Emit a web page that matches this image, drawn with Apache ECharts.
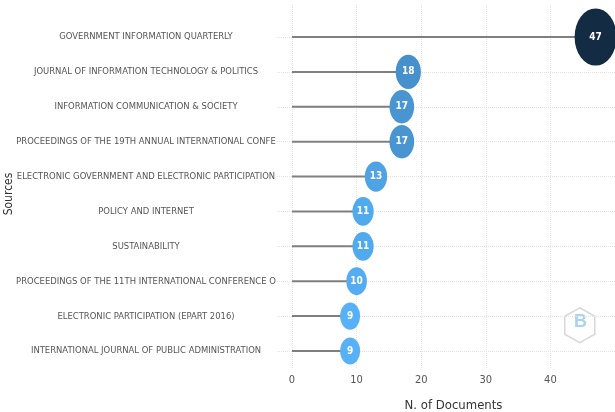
<!DOCTYPE html>
<html><head><meta charset="utf-8">
<script src="https://cdn.jsdelivr.net/npm/echarts@6/dist/echarts.min.js"></script>
<style>html,body{margin:0;padding:0;background:#fff}#c{width:615px;height:412px}</style>
</head><body><div id="c"></div>
<script>
const sources = [
  "GOVERNMENT INFORMATION QUARTERLY",
  "JOURNAL OF INFORMATION TECHNOLOGY & POLITICS",
  "INFORMATION COMMUNICATION & SOCIETY",
  "PROCEEDINGS OF THE 19TH ANNUAL INTERNATIONAL CONFE",
  "ELECTRONIC GOVERNMENT AND ELECTRONIC PARTICIPATION",
  "POLICY AND INTERNET",
  "SUSTAINABILITY",
  "PROCEEDINGS OF THE 11TH INTERNATIONAL CONFERENCE O",
  "ELECTRONIC PARTICIPATION (EPART 2016)",
  "INTERNATIONAL JOURNAL OF PUBLIC ADMINISTRATION"
];
const documents = [47, 18, 17, 17, 13, 11, 11, 10, 9, 9];
const xTicks = [0, 10, 20, 30, 40];

const labelFont = '"Liberation Sans Narrow","DejaVu Sans Condensed","Liberation Sans",sans-serif';
const chart = echarts.init(document.getElementById('c'));
chart.setOption({
  animation: false,
  grid: [
    {left: 292, right: 0, top: 37, bottom: 61, outerBoundsMode: 'none', containLabel: false},
    {left: 292, right: 0, top: 5, bottom: 44, outerBoundsMode: 'none', containLabel: false}
  ],
  xAxis: [
    {gridIndex: 0, type: 'value', min: 0, max: 50, interval: 10,
     axisLine: {show: false}, axisTick: {show: false}, axisLabel: {show: false}, splitLine: {show: false}},
    {gridIndex: 1, type: 'value', min: 0, max: 50, interval: 10,
     axisLine: {show: false}, axisTick: {show: false},
     axisLabel: {color: '#555', fontSize: 11, fontFamily: labelFont, margin: 7,
       formatter: v => xTicks.includes(v) ? String(v) : ''},
     splitLine: {show: true, lineStyle: {color: '#e3e3e3', type: 'dotted', width: 1}},
     name: 'N. of Documents', nameLocation: 'middle', nameGap: 31,
     nameTextStyle: {color: '#333', fontSize: 13, fontFamily: labelFont}}
  ],
  yAxis: [
    {gridIndex: 0, type: 'category', data: sources, inverse: true, boundaryGap: false,
     axisLine: {show: false},
     axisTick: {show: true, length: 15, lineStyle: {color: '#e3e3e3', type: 'dotted'}},
     axisLabel: {color: '#555', fontSize: 9.4, fontFamily: labelFont, align: 'center', margin: 146},
     splitLine: {show: true, lineStyle: {color: '#e3e3e3', type: 'dotted', width: 1}},
     name: 'Sources', nameLocation: 'middle', nameGap: 277, nameMoveOverlap: false,
     nameTextStyle: {color: '#333', fontSize: 12, fontFamily: labelFont}},
    {gridIndex: 1, type: 'value', show: false}
  ],
  visualMap: {
    show: false, type: 'continuous', min: 9, max: 47, seriesIndex: 1, dimension: 0,
    inRange: {color: ['#56B1F7', '#132B43']}
  },
  series: [
    {type: 'bar', xAxisIndex: 0, yAxisIndex: 0, data: documents, barWidth: 2,
     itemStyle: {color: '#7f7f7f'}, silent: true},
    {type: 'scatter', xAxisIndex: 0, yAxisIndex: 0, clip: false,
     data: documents.map((v, i) => [v, sources[i]]),
     symbol: 'circle', itemStyle: {opacity: 1},
     symbolSize: d => [14.8 + 0.58 * d[0], 20 + 0.79 * d[0]],
     label: {show: true, position: 'inside', color: '#fff', fontSize: 10, fontWeight: 'bold',
       fontFamily: labelFont, formatter: p => String(p.value[0])}}
  ],
  graphic: [
    {type: 'polygon', left: 564, top: 307, shape: {points: [[15,0],[30,8.5],[30,26.5],[15,35],[0,26.5],[0,8.5]]},
     style: {fill: '#fff', stroke: '#d8d8d8', lineWidth: 1.5}},
    {type: 'text', left: 574, top: 313, style: {text: 'B', fill: '#a9d3ef', font: 'bold 18px sans-serif'}}
  ]
});
</script></body></html>
